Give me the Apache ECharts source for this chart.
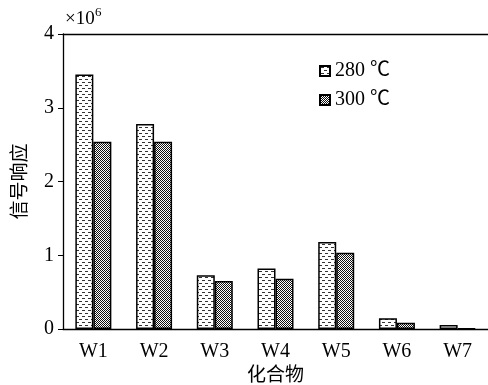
<!DOCTYPE html>
<html><head><meta charset="utf-8">
<script src="https://cdn.jsdelivr.net/npm/echarts@6/dist/echarts.min.js"></script>
<style>html,body{margin:0;padding:0;background:#fff}#c{width:488px;height:385px}</style>
</head><body><div id="c"></div>
<script>
const categories = ['W1','W2','W3','W4','W5','W6','W7'];
const series280 = [3.45, 2.78, 0.73, 0.82, 1.18, 0.145, 0.055];
const series300 = [2.54, 2.54, 0.65, 0.68, 1.035, 0.085, 0.01];
const yTicks = [0, 1, 2, 3, 4];
const seriesNames = ['280 ℃', '300 ℃'];

function dashPattern(){
  const c = document.createElement('canvas'); c.width = 6; c.height = 6;
  const g = c.getContext('2d');
  g.fillStyle = '#fff'; g.fillRect(0,0,6,6);
  g.fillStyle = '#333';
  g.fillRect(1,1,3,1);
  g.fillRect(4,4,2,1); g.fillRect(0,4,1,1);
  return c;
}
function checkPattern(){
  const c = document.createElement('canvas'); c.width = 2; c.height = 2;
  const g = c.getContext('2d');
  g.fillStyle = '#fff'; g.fillRect(0,0,2,2);
  g.fillStyle = '#111';
  g.fillRect(0,0,1,1); g.fillRect(1,1,1,1);
  return c;
}
const font = '"Liberation Serif","Times New Roman","Noto Sans CJK SC",serif';
const chart = echarts.init(document.getElementById('c'), null, {renderer:'canvas'});
chart.setOption({
  animation:false,
  backgroundColor:'#fff',
  grid:{left:63, right:0, top:34, bottom:56, containLabel:false, outerBoundsMode:'none'},
  legend:{
    data:seriesNames, orient:'vertical', left:314, top:56, itemGap:9,
    itemWidth:10, itemHeight:10, icon:'rect',
    textStyle:{fontFamily:font, fontSize:20, color:'#000'}
  },
  xAxis:[{
    type:'category', data:categories, boundaryGap:true,
    axisLine:{show:true, lineStyle:{color:'#000', width:1.3}},
    axisTick:{show:false},
    axisLabel:{fontFamily:font, fontSize:20, color:'#000', margin:13},
    name:'化合物', nameLocation:'middle', nameGap:35,
    nameTextStyle:{fontFamily:font, fontSize:19, color:'#000'}
  },{
    type:'category', data:categories, position:'top',
    axisLine:{show:true, onZero:false, lineStyle:{color:'#000', width:1.3}},
    axisTick:{show:false}, axisLabel:{show:false}
  }],
  yAxis:{
    type:'value', min:yTicks[0], max:yTicks[yTicks.length-1], interval:1,
    axisLine:{show:true, lineStyle:{color:'#000', width:1.3}},
    axisTick:{show:true, length:5, lineStyle:{color:'#000'}},
    splitLine:{show:false},
    axisLabel:{fontFamily:font, fontSize:20, color:'#000', margin:9},
    name:'信号响应', nameLocation:'middle', nameGap:32,
    nameTextStyle:{fontFamily:font, fontSize:19, color:'#000'}
  },
  graphic:[{
    type:'text', left:65, top:10,
    style:{text:'×10', fontFamily:font, fontSize:19, fill:'#000'}
  },{
    type:'text', left:95, top:6,
    style:{text:'6', fontFamily:font, fontSize:13, fill:'#000'}
  }],
  series:[{
    name:seriesNames[0], type:'bar', data:series280, barWidth:18, barGap:'0%',
    itemStyle:{color:{image:dashPattern(), repeat:'repeat'}, borderColor:'#000', borderWidth:1.5}
  },{
    name:seriesNames[1], type:'bar', data:series300, barWidth:18, barGap:'0%',
    itemStyle:{color:{image:checkPattern(), repeat:'repeat'}, borderColor:'#000', borderWidth:1.5}
  }]
});
</script></body></html>
